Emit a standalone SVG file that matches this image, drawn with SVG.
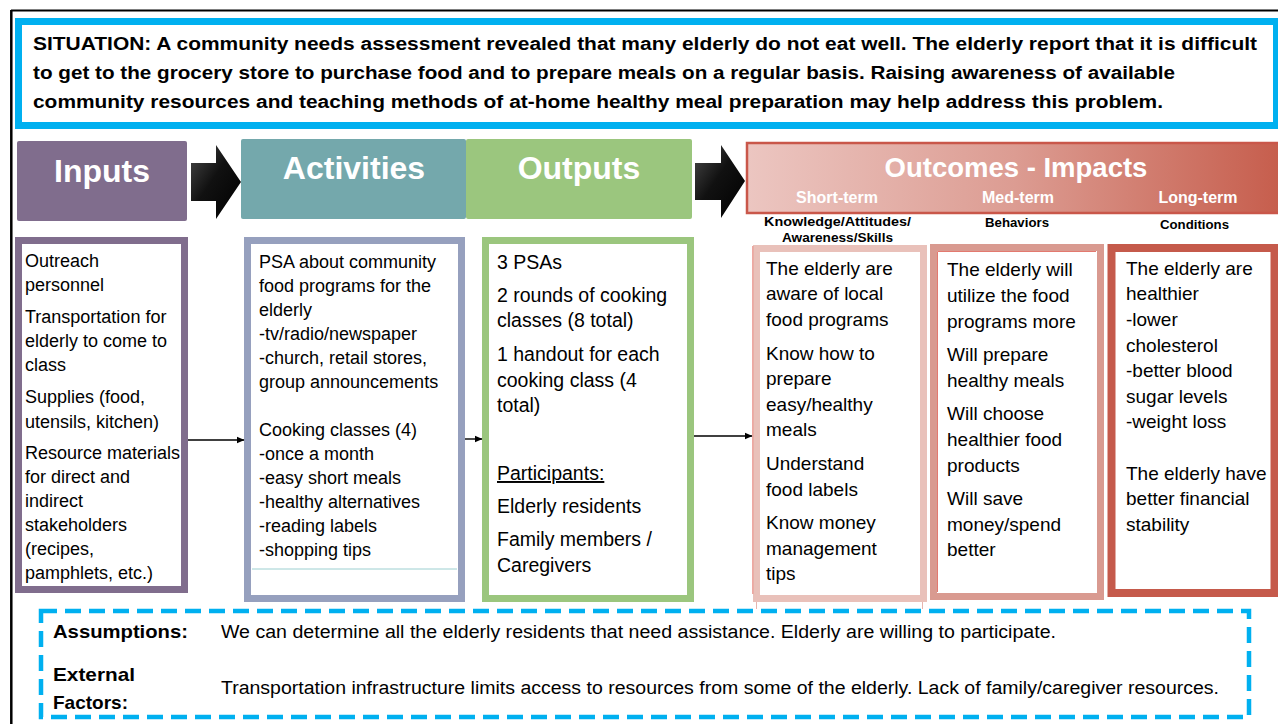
<svg xmlns="http://www.w3.org/2000/svg" width="1278" height="724" viewBox="0 0 1278 724">
<defs>
<style>
text{font-family:"Liberation Sans",Arial,sans-serif;fill:#000}
.b{font-weight:bold}
.hd{font-weight:bold;fill:#fff;font-size:32px;text-anchor:middle}
.sub{font-weight:bold;fill:#fff;font-size:16px;text-anchor:middle}
.t18{font-size:18px}
.t19{font-size:19px}
.t195{font-size:19.5px}
.lbl{font-weight:bold;font-size:12.5px}
.conn{stroke:#000;stroke-width:1.4;fill:none;marker-end:url(#ah)}
</style>
<linearGradient id="og" x1="0" y1="0" x2="1" y2="0">
<stop offset="0" stop-color="#ECC6C1"/>
<stop offset="0.5" stop-color="#DC9C92"/>
<stop offset="1" stop-color="#C65D4C"/>
</linearGradient>
<linearGradient id="ag" x1="0" y1="0" x2="1" y2="1">
<stop offset="0" stop-color="#4a4a4a"/>
<stop offset="0.45" stop-color="#111"/>
<stop offset="1" stop-color="#000"/>
</linearGradient>
<marker id="ah" markerWidth="8" markerHeight="8" refX="7" refY="4" orient="auto" markerUnits="userSpaceOnUse">
<path d="M0,0.8 L7.5,4 L0,7.2 Z" fill="#000"/>
</marker>
</defs>
<rect width="1278" height="724" fill="#fff"/>
<g id="frame">
<line x1="11" y1="10.5" x2="1278" y2="10.5" stroke="#000" stroke-width="2.2"/>
<line x1="11.3" y1="10" x2="11.3" y2="724" stroke="#000" stroke-width="2.5"/>
</g>
<g id="situation">
<rect x="18.5" y="21.5" width="1258" height="104" fill="#fff" stroke="#00B0F0" stroke-width="7"/>
<text class="b" font-size="18" x="33" y="50" textLength="1224" lengthAdjust="spacingAndGlyphs">SITUATION: A community needs assessment revealed that many elderly do not eat well. The elderly report that it is difficult</text>
<text class="b" font-size="18" x="33" y="79" textLength="1142" lengthAdjust="spacingAndGlyphs">to get to the grocery store to purchase food and to prepare meals on a regular basis. Raising awareness of available</text>
<text class="b" font-size="18" x="33" y="108" textLength="1130" lengthAdjust="spacingAndGlyphs">community resources and teaching methods of at-home healthy meal preparation may help address this problem.</text>
</g>
<g id="inputs-header">
<rect x="17" y="141" width="170" height="80" rx="2" fill="#806D8D"/>
<text class="hd" x="102" y="182">Inputs</text>
</g>
<g id="arrow-1">
<polygon points="191,163 216,163 216,145 241,182 216,219 216,201 191,201" fill="url(#ag)"/>
</g>
<g id="activities-header">
<rect x="241" y="139" width="225" height="80" rx="2" fill="#74A8AC"/>
<text class="hd" x="354" y="179">Activities</text>
</g>
<g id="outputs-header">
<rect x="466" y="139" width="226" height="80" rx="2" fill="#9BC67E"/>
<text class="hd" x="579" y="179">Outputs</text>
</g>
<g id="arrow-2">
<polygon points="695,163 721,163 721,145 745,181 721,218 721,200 695,200" fill="url(#ag)"/>
</g>
<g id="outcomes-header">
<rect x="747" y="143" width="536" height="70" fill="url(#og)" stroke="#C9574A" stroke-width="2.5"/>
<text class="hd" x="1016" y="177" font-size="27.5" style="font-size:27.5px">Outcomes - Impacts</text>
<text class="sub" x="837" y="203">Short-term</text>
<text class="sub" x="1018" y="203">Med-term</text>
<text class="sub" x="1198" y="203">Long-term</text>
<text class="lbl" x="764" y="226" textLength="147" lengthAdjust="spacingAndGlyphs">Knowledge/Attitudes/</text>
<text class="lbl" x="782" y="242" textLength="111" lengthAdjust="spacingAndGlyphs">Awareness/Skills</text>
<text class="lbl" x="985" y="227" textLength="64" lengthAdjust="spacingAndGlyphs">Behaviors</text>
<text class="lbl" x="1160" y="229" textLength="69" lengthAdjust="spacingAndGlyphs">Conditions</text>
</g>
<g id="inputs">
<rect x="18.5" y="240.5" width="166" height="349" fill="#fff" stroke="#806D8D" stroke-width="7"/>
<g class="t18">
<text x="25" y="267">Outreach</text>
<text x="25" y="291">personnel</text>
<text x="25" y="323">Transportation for</text>
<text x="25" y="347">elderly to come to</text>
<text x="25" y="371">class</text>
<text x="25" y="403">Supplies (food,</text>
<text x="25" y="428">utensils, kitchen)</text>
<text x="25" y="459">Resource materials</text>
<text x="25" y="483">for direct and</text>
<text x="25" y="507">indirect</text>
<text x="25" y="531">stakeholders</text>
<text x="25" y="555">(recipes,</text>
<text x="25" y="579">pamphlets, etc.)</text>
</g>
</g>
<g id="activities">
<rect x="247.5" y="240.5" width="214" height="358" fill="#fff" stroke="#96A0BE" stroke-width="7"/>
<line x1="252" y1="569" x2="457" y2="569" stroke="#9CCFD0" stroke-width="1"/>
<g class="t18">
<text x="259" y="268">PSA about community</text>
<text x="259" y="292">food programs for the</text>
<text x="259" y="316">elderly</text>
<text x="259" y="340">-tv/radio/newspaper</text>
<text x="259" y="364">-church, retail stores,</text>
<text x="259" y="388">group announcements</text>
<text x="259" y="436">Cooking classes (4)</text>
<text x="259" y="460">-once a month</text>
<text x="259" y="484">-easy short meals</text>
<text x="259" y="508">-healthy alternatives</text>
<text x="259" y="532">-reading labels</text>
<text x="259" y="556">-shopping tips</text>
</g>
</g>
<g id="outputs">
<rect x="485.5" y="240.5" width="205" height="358" fill="#fff" stroke="#9BC67E" stroke-width="7"/>
<g class="t195">
<text x="497" y="269">3 PSAs</text>
<text x="497" y="302">2 rounds of cooking</text>
<text x="497" y="327">classes (8 total)</text>
<text x="497" y="361">1 handout for each</text>
<text x="497" y="387">cooking class (4</text>
<text x="497" y="412">total)</text>
<text x="497" y="480" text-decoration="underline">Participants:</text>
<text x="497" y="513">Elderly residents</text>
<text x="497" y="546">Family members /</text>
<text x="497" y="572">Caregivers</text>
</g>
</g>
<g id="short-term">
<line x1="756.5" y1="598" x2="756.5" y2="609" stroke="#E6B5AE" stroke-width="1"/>
<line x1="922.5" y1="598" x2="922.5" y2="609" stroke="#E6B5AE" stroke-width="1"/>
<rect x="756.5" y="248.5" width="167" height="350" fill="#fff" stroke="#E9C1BA" stroke-width="7"/>
<line x1="752.8" y1="246" x2="752.8" y2="594" stroke="#E7847B" stroke-width="1"/>
<g class="t19">
<text x="766" y="275">The elderly are</text>
<text x="766" y="300">aware of local</text>
<text x="766" y="326">food programs</text>
<text x="766" y="360">Know how to</text>
<text x="766" y="385">prepare</text>
<text x="766" y="411">easy/healthy</text>
<text x="766" y="436">meals</text>
<text x="766" y="470">Understand</text>
<text x="766" y="496">food labels</text>
<text x="766" y="529">Know money</text>
<text x="766" y="555">management</text>
<text x="766" y="580">tips</text>
</g>
</g>
<g id="med-term">
<rect x="933.5" y="247.5" width="167" height="349" fill="#fff" stroke="#D99A90" stroke-width="7"/>
<polyline points="937.5,592 937.5,251.5 1096,251.5" fill="none" stroke="#E3796F" stroke-width="1"/>
<g class="t19">
<text x="947" y="276">The elderly will</text>
<text x="947" y="302">utilize the food</text>
<text x="947" y="328">programs more</text>
<text x="947" y="361">Will prepare</text>
<text x="947" y="387">healthy meals</text>
<text x="947" y="420">Will choose</text>
<text x="947" y="446">healthier food</text>
<text x="947" y="472">products</text>
<text x="947" y="505">Will save</text>
<text x="947" y="531">money/spend</text>
<text x="947" y="556">better</text>
</g>
</g>
<g id="long-term">
<rect x="1111.5" y="248" width="163" height="345" fill="#fff" stroke="#C55A4B" stroke-width="8"/>
<g class="t19">
<text x="1126" y="275">The elderly are</text>
<text x="1126" y="300">healthier</text>
<text x="1126" y="326">-lower</text>
<text x="1126" y="352">cholesterol</text>
<text x="1126" y="377">-better blood</text>
<text x="1126" y="403">sugar levels</text>
<text x="1126" y="428">-weight loss</text>
<text x="1126" y="480">The elderly have</text>
<text x="1126" y="505">better financial</text>
<text x="1126" y="531">stability</text>
</g>
</g>
<g id="connectors">
<line class="conn" x1="188" y1="440" x2="244" y2="440"/>
<line class="conn" x1="465" y1="439" x2="482" y2="439"/>
<line class="conn" x1="694" y1="436" x2="752" y2="436"/>
</g>
<g id="assumptions-box">
<rect x="41" y="611" width="1208" height="106" fill="none" stroke="#00B0F0" stroke-width="4.5" stroke-dasharray="16 8"/>
<text class="b" font-size="19" x="53" y="638" textLength="135" lengthAdjust="spacingAndGlyphs">Assumptions:</text>
<text class="t18" x="221" y="638" textLength="835" lengthAdjust="spacingAndGlyphs">We can determine all the elderly residents that need assistance. Elderly are willing to participate.</text>
<text class="b" font-size="19" x="53" y="681" textLength="82" lengthAdjust="spacingAndGlyphs">External</text>
<text class="b" font-size="19" x="53" y="709" textLength="75" lengthAdjust="spacingAndGlyphs">Factors:</text>
<text class="t18" x="221" y="694" textLength="998" lengthAdjust="spacingAndGlyphs">Transportation infrastructure limits access to resources from some of the elderly. Lack of family/caregiver resources.</text>
</g>
</svg>
